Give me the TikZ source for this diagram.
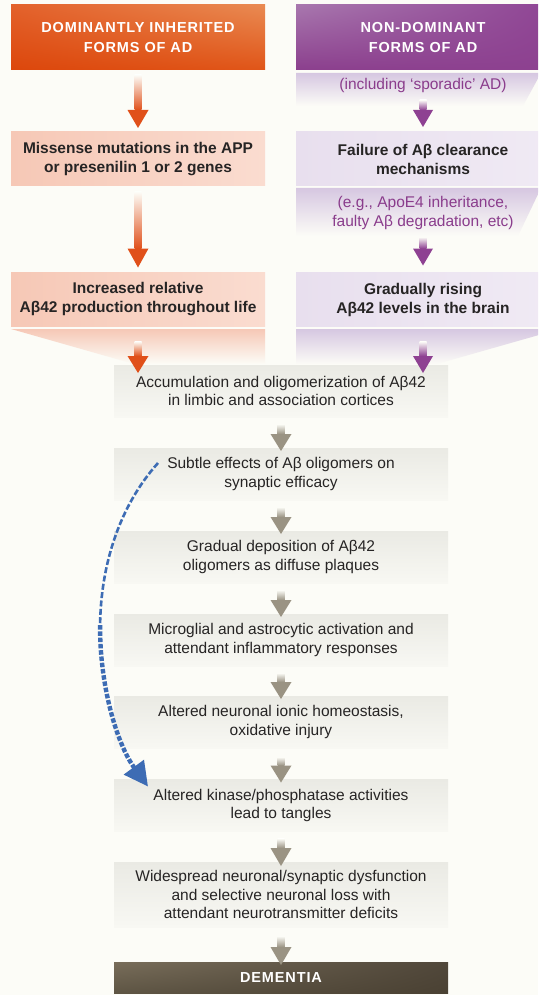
\documentclass[tikz,border=0pt]{standalone}
\usepackage{fontspec}
\setmainfont{Liberation Sans}
\newfontfamily\hdfont[LetterSpace=6]{Liberation Sans}
\usetikzlibrary{calc,arrows.meta,shadings}
\definecolor{bgc}{HTML}{FCFCF7}
\definecolor{orangeA}{HTML}{E0501A}
\definecolor{purpA}{HTML}{8E4192}
\definecolor{purptext}{HTML}{8A3C8C}
\definecolor{grayarr}{HTML}{9A9383}
\definecolor{bluearr}{HTML}{3D6CB4}
\definecolor{txt}{HTML}{262424}
\definecolor{salmonL}{HTML}{F6C8B6}
\definecolor{salmonR}{HTML}{FADCD0}
\definecolor{lavL}{HTML}{E8DFEE}
\definecolor{lavR}{HTML}{F0EAF4}
\definecolor{lavband}{HTML}{D6C7E1}
\definecolor{boxtop}{HTML}{EAEAE4}
\definecolor{boxbot}{HTML}{F8F8F3}
\definecolor{orUL}{HTML}{E3612B}
\definecolor{orUR}{HTML}{E98A52}
\definecolor{orLL}{HTML}{DC470C}
\definecolor{orLR}{HTML}{E05518}
\definecolor{puUL}{HTML}{A877AE}
\definecolor{puUR}{HTML}{8F4594}
\definecolor{puLL}{HTML}{8B3F8D}
\definecolor{puLR}{HTML}{8D4190}
\definecolor{deUL}{HTML}{786D5A}
\definecolor{deLL}{HTML}{5E5544}
\definecolor{deUR}{HTML}{50473A}
\definecolor{deLR}{HTML}{4A4133}
\newcommand\hfnt{\hdfont\bfseries\fontsize{14.5}{20.5}\selectfont}
\newcommand\fatarr[7]{%
  \coordinate (fa-s) at ($(#1)+(0,#2)$);
  \coordinate (fa-t) at ($(#1 |- #3)+(0,#4)$);
  \shade[top color=bgc, bottom color=#5] ($(fa-s)+(-3.5,0)$) rectangle ($(fa-t)+(3.5,-#6)$);
  \fill[#5] ($(fa-t)+(-#7,-#6)$) -- ($(fa-t)+(#7,-#6)$) -- (fa-t) -- cycle;
}
\begin{document}
\begin{tikzpicture}[x=1pt,y=-1pt,
  every node/.style={inner sep=0pt,outer sep=0pt},
  hdr/.style={minimum width=254,minimum height=65,text=white,font=\hfnt,align=center},
  colbox/.style={minimum width=254,minimum height=54,text=txt,align=center,
     font=\bfseries\fontsize{15.5}{19}\selectfont},
  sbox/.style={colbox,left color=salmonL,right color=salmonR},
  lbox/.style={colbox,left color=lavL,right color=lavR},
  ptext/.style={text=purptext,align=center,font=\fontsize{15.5}{19}\selectfont},
  cbox/.style={minimum width=334,minimum height=52,top color=boxtop,bottom color=boxbot,
     text=txt,align=center,font=\fontsize{15.5}{18.5}\selectfont}
]
\useasboundingbox (0,0) rectangle (538,995);
\clip (0,0) rectangle (538,995);
\fill[bgc] (0,0) rectangle (538,995);

% headers
\node[hdr,upper left=orUL,upper right=orUR,lower left=orLL,lower right=orLR] (h1) at (138,37.5)
  {DOMINANTLY INHERITED\\FORMS OF AD};
\node[hdr,upper left=puUL,upper right=puUR,lower left=puLL,lower right=puLR] (h2) at (423,37.5)
  {NON-DOMINANT\\FORMS OF AD};

% right bands
\shade[top color=lavband,bottom color=bgc] (296,73) -- (541,73) -- (523,106) -- (296,106) -- cycle;
\node[ptext] (p0) at (423,85) {(including ‘sporadic’ AD)};
\shade[top color=lavband,bottom color=bgc] (296,188) -- (541,188) -- (518,236) -- (296,236) -- cycle;
\node[ptext] (p1) at (423,213) {(e.g., ApoE4 inheritance,\\faulty Aβ degradation, etc)};

% row 2
\node[sbox] (b1) at (138,159) {Missense mutations in the APP\\or presenilin 1 or 2 genes};
\node[lbox] (b2) at (423,159) {Failure of Aβ clearance\\mechanisms};

% row 3
\node[sbox] (r1) at (138,299.5) {Increased relative\\Aβ42 production throughout life};
\node[lbox] (r2) at (423,299.5) {Gradually rising\\Aβ42 levels in the brain};

% funnels
\shade[top color=salmonL,bottom color=bgc] (11,329) -- (265,329) -- (265,364) -- (134,364) -- cycle;
\shade[top color=lavband,bottom color=bgc] (296,329) -- (560,329) -- (437,364) -- (296,364) -- cycle;

% central boxes
\node[cbox] (c1) at (281,391) {Accumulation and oligomerization of Aβ42\\in limbic and association cortices};
\node[cbox] (c2) at (281,474) {Subtle effects of Aβ oligomers on\\synaptic efficacy};
\node[cbox] (c3) at (281,557) {Gradual deposition of Aβ42\\oligomers as diffuse plaques};
\node[cbox] (c4) at (281,640) {Microglial and astrocytic activation and\\attendant inflammatory responses};
\node[cbox] (c5) at (281,722) {Altered neuronal ionic homeostasis,\\oxidative injury};
\node[cbox] (c6) at (281,805.5) {Altered kinase/phosphatase activities\\lead to tangles};
\node[cbox,minimum height=65] (c7) at (281,894.5) {Widespread neuronal/synaptic dysfunction\\and selective neuronal loss with\\attendant neurotransmitter deficits};
\node[minimum width=334,minimum height=31,upper left=deUL,lower left=deLL,upper right=deUR,lower right=deLR,
  text=white,font=\hfnt] (dem) at (281,977.5) {DEMENTIA};

% orange arrows
\fatarr{h1.south}{5}{b1.north}{-4}{orangeA}{18}{10.5}
\fatarr{b1.south}{6}{r1.north}{-5}{orangeA}{19}{10.5}
\fatarr{r1.south}{15}{c1.north}{8}{orangeA}{17}{10.5}
% purple arrows
\fatarr{h2.south}{30}{b2.north}{-5}{purpA}{17}{10}
\fatarr{b2.south}{51}{r2.north}{-7}{purpA}{17}{10}
\fatarr{r2.south}{15}{c1.north}{8}{purpA}{17}{10}
% gray arrows
\fatarr{c1.south}{7}{c2.north}{3}{grayarr}{17}{10.5}
\fatarr{c2.south}{7}{c3.north}{3}{grayarr}{17}{10.5}
\fatarr{c3.south}{7}{c4.north}{3}{grayarr}{17}{10.5}
\fatarr{c4.south}{7}{c5.north}{3}{grayarr}{17}{10.5}
\fatarr{c5.south}{9}{c6.north}{3}{grayarr}{17}{10.5}
\fatarr{c6.south}{7}{c7.north}{4}{grayarr}{18}{10.5}
\fatarr{c7.south}{9}{dem.north}{3}{grayarr}{18}{10.5}

% blue dashed arrow
\coordinate (bs) at ($(c2.west)+(44,-11)$);
\coordinate (bm) at (100.1,625);
\coordinate (be) at ($(c6.north west)+(34,7)$);
\draw[bluearr,line width=2.6,dash pattern=on 6pt off 2.4pt] (bs) .. controls (119,506.5) and (100.75,565.75) .. (bm);
\draw[bluearr,line width=4.4,dash pattern=on 4.5pt off 1.8pt,-{Triangle[length=24pt,width=24pt]}]
  (bm) .. controls (99.5,684.25) and (116.5,743.5) .. (be);
\end{tikzpicture}
\end{document}
